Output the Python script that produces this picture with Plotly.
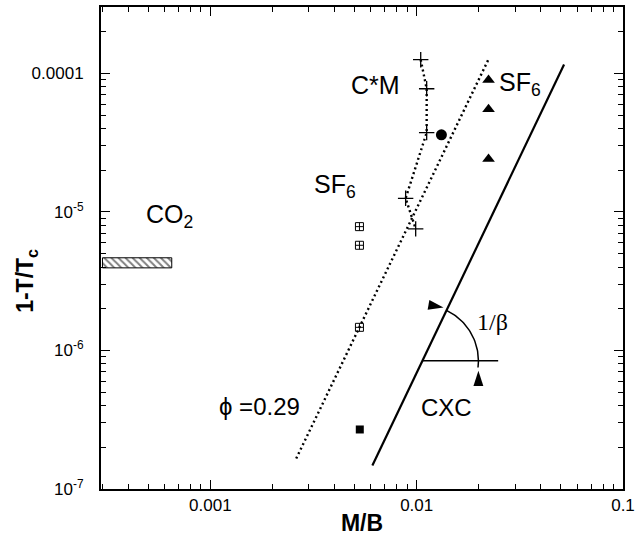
import numpy as np
import plotly.graph_objects as go

# ---------------- data ----------------
cm_x = [0.01046, 0.01118, 0.01118, 0.00884, 0.00989]
cm_y = [1.257e-4, 7.76e-5, 3.74e-5, 1.256e-5, 7.55e-6]

circle_x = [0.01318]
circle_y = [3.61e-5]

sf6_open_x = [0.00528, 0.00528, 0.00528]
sf6_open_y = [7.84e-6, 5.75e-6, 1.47e-6]

sf6_fillsq_x = [0.00530]
sf6_fillsq_y = [2.69e-7]

sf6_tri_x = [0.0223, 0.0223, 0.0223]
sf6_tri_y = [8.97e-5, 5.51e-5, 2.41e-5]

phi_x = [0.002607, 0.02219]
phi_y = [1.66e-7, 1.248e-4]

cxc_x = [0.0061, 0.0518]
cxc_y = [1.48e-7, 1.16e-4]

horiz_x = [0.01066, 0.02483]
horiz_y = [8.43e-7, 8.43e-7]

co2_x = [0.0003, 0.00065]
co2_y = [3.95e-6, 4.67e-6]

x_tickvals = [0.001, 0.01, 0.1]
x_ticktext = ["0.001", "0.01", "0.1"]
y_tickvals = [1e-7, 1e-6, 1e-5, 1e-4]
y_ticktext = ["10<sup>-7</sup>", "10<sup>-6</sup>", "10<sup>-5</sup>", "0.0001"]

# ---------------- layout geometry ----------------
W, H = 644, 537
ML, MR, MT, MB = 101, 21, 5, 48
XR = [-3.53, -1.0]
YR = [-7.0, -3.52]
px_per_dec_x = (W - ML - MR) / (XR[1] - XR[0])
px_per_dec_y = (H - MT - MB) / (YR[1] - YR[0])

FONT = "Liberation Sans, Arial, sans-serif"

fig = go.Figure()

# CO2 hatched band
fig.add_trace(go.Scatter(
    x=[co2_x[0], co2_x[1], co2_x[1], co2_x[0], co2_x[0]],
    y=[co2_y[0], co2_y[0], co2_y[1], co2_y[1], co2_y[0]],
    mode="lines", fill="toself",
    fillcolor="white",
    fillpattern=dict(shape="\\", fgcolor="black", bgcolor="white", size=5, solidity=0.4),
    line=dict(color="black", width=1), showlegend=False, hoverinfo="skip"))

# phi = 0.29 dotted line
fig.add_trace(go.Scatter(x=phi_x, y=phi_y, mode="lines",
                         line=dict(color="black", width=2.4, dash="2px,3px"), showlegend=False))
# C*M dotted curve with crosses
fig.add_trace(go.Scatter(x=cm_x, y=cm_y, mode="lines+markers",
                         line=dict(color="black", width=2.4, dash="2px,3px"),
                         marker=dict(symbol="cross-thin-open", size=11,
                                     line=dict(color="black", width=1.3)),
                         showlegend=False))
# CXC solid line
fig.add_trace(go.Scatter(x=cxc_x, y=cxc_y, mode="lines",
                         line=dict(color="black", width=2.2), showlegend=False))
# horizontal reference line
fig.add_trace(go.Scatter(x=horiz_x, y=horiz_y, mode="lines",
                         line=dict(color="black", width=1.5), showlegend=False))

# angle arc (circle in pixel space around the vertex)
vx, vy = np.log10(horiz_x[0]), np.log10(horiz_y[0])
slope_ang = np.arctan2((np.log10(cxc_y[1]) - np.log10(cxc_y[0])) * px_per_dec_y,
                       (np.log10(cxc_x[1]) - np.log10(cxc_x[0])) * px_per_dec_x)
R = 56
th = np.linspace(slope_ang, -0.12, 40)
arc_x = 10 ** (vx + R * np.cos(th) / px_per_dec_x)
arc_y = 10 ** (vy + R * np.sin(th) / px_per_dec_y)
fig.add_trace(go.Scatter(x=arc_x, y=arc_y, mode="lines",
                         line=dict(color="black", width=1.5), showlegend=False))
# arrowheads
ah_x = [10 ** (vx + (R * np.cos(slope_ang) - 3) / px_per_dec_x),
        10 ** (vx + R / px_per_dec_x)]
ah_y = [10 ** (vy + (R * np.sin(slope_ang) + 3) / px_per_dec_y),
        10 ** (vy - 10 / px_per_dec_y)]
fig.add_trace(go.Scatter(x=ah_x, y=ah_y, mode="markers",
                         marker=dict(symbol="arrow", size=16, angle=[100, 0], color="black",
                                     line=dict(width=0)),
                         showlegend=False))

# SF6 markers
fig.add_trace(go.Scatter(x=sf6_open_x, y=sf6_open_y, mode="markers",
                         marker=dict(symbol="square-cross-open", size=8, color="black",
                                     line=dict(width=1)), showlegend=False))
fig.add_trace(go.Scatter(x=sf6_fillsq_x, y=sf6_fillsq_y, mode="markers",
                         marker=dict(symbol="square", size=8, color="black"), showlegend=False))
fig.add_trace(go.Scatter(x=sf6_tri_x, y=sf6_tri_y, mode="markers",
                         marker=dict(symbol="triangle-up", size=11, color="black"), showlegend=False))
fig.add_trace(go.Scatter(x=circle_x, y=circle_y, mode="markers",
                         marker=dict(symbol="circle", size=11, color="black"), showlegend=False))

# text labels
labels = [
    ("CO<sub>2</sub>", -3.196, -5.03, FONT, 25),
    ("C*M", -2.199, -4.081, FONT, 25),
    ("SF<sub>6</sub>", -2.395, -4.81, FONT, 25),
    ("SF<sub>6</sub>", -1.499, -4.078, FONT, 25),
    ("\u03d5 =0.29", -2.760, -6.404, FONT, 24),
    ("CXC", -1.855, -6.411, FONT, 24),
    ("1/\u03b2", -1.634, -5.794, "Liberation Serif, Times New Roman, serif", 24),
]
for txt, lx, ly, fam, fs in labels:
    fig.add_annotation(x=lx, y=ly, xref="x", yref="y", text=txt, showarrow=False,
                       font=dict(family=fam, size=fs, color="black"))

# y-axis title (as annotation, positioned like the reference)
fig.add_annotation(x=(27 - ML) / (W - ML - MR), y=(H - 280 - MB) / (H - MT - MB),
                   xref="paper", yref="paper", text="<b>1-T/T<sub>c</sub></b>",
                   xanchor="center", yanchor="middle",
                   showarrow=False, textangle=-90, font=dict(family=FONT, size=23, color="black"))

axis_common = dict(type="log", showline=True, linecolor="black", linewidth=2,
                   mirror="ticks", ticks="inside", ticklen=9, tickwidth=1.3, tickcolor="black",
                   showgrid=False, zeroline=False,
                   tickfont=dict(family=FONT, size=17, color="black"))

fig.update_xaxes(range=XR, tickvals=x_tickvals, ticktext=x_ticktext,
                 minor=dict(ticks="inside", ticklen=5, tickwidth=1, tickcolor="black",
                            tickvals=[m * 10.0 ** e for e in range(-4, -1) for m in range(2, 10)]),
                 title=dict(text="<b>M/B</b>", font=dict(family=FONT, size=23, color="black"),
                            standoff=0),
                 **axis_common)
fig.update_yaxes(range=YR, tickvals=y_tickvals, ticktext=y_ticktext,
                 minor=dict(ticks="inside", ticklen=5, tickwidth=1, tickcolor="black",
                            tickvals=[m * 10.0 ** e for e in range(-7, -3) for m in range(2, 10)]),
                 ticklabelstandoff=12,
                 **axis_common)

fig.update_layout(width=W, height=H, margin=dict(l=ML, r=MR, t=MT, b=MB),
                  plot_bgcolor="white", paper_bgcolor="white", showlegend=False)

fig.write_html("out.html", config={"displayModeBar": False},
               post_script="document.body.style.margin='0px';document.body.style.overflow='hidden';")
